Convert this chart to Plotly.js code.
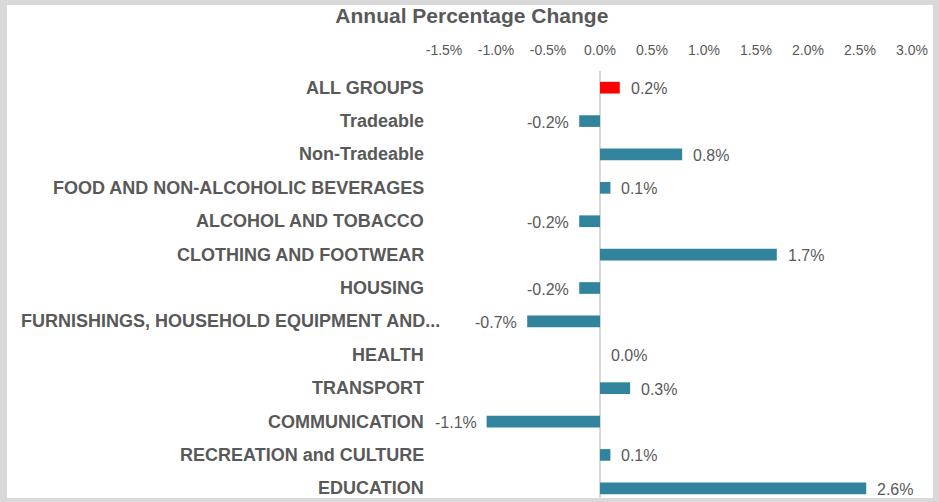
<!DOCTYPE html>
<html>
<head>
<meta charset="utf-8">
<script src="https://cdn.plot.ly/plotly-3.0.1.min.js"></script>
<style>
  html, body { margin: 0; padding: 0; width: 939px; height: 502px; background: #d9d9d9; overflow: hidden; }
  #chart { position: absolute; left: 7px; top: 5px; width: 926px; height: 493px; background: #ffffff; }
</style>
</head>
<body>
<div id="chart"></div>
<script>
// ---- data ----
const categories = [
  "ALL GROUPS",
  "Tradeable",
  "Non-Tradeable",
  "FOOD AND NON-ALCOHOLIC BEVERAGES",
  "ALCOHOL AND TOBACCO",
  "CLOTHING AND FOOTWEAR",
  "HOUSING",
  "FURNISHINGS, HOUSEHOLD EQUIPMENT AND...",
  "HEALTH",
  "TRANSPORT",
  "COMMUNICATION",
  "RECREATION and CULTURE",
  "EDUCATION"
];
const annualChange = [0.19, -0.20, 0.79, 0.10, -0.20, 1.70, -0.20, -0.70, 0.00, 0.29, -1.09, 0.10, 2.56];
const tickValues = [-1.5, -1.0, -0.5, 0.0, 0.5, 1.0, 1.5, 2.0, 2.5, 3.0];
const chartTitle = "Annual Percentage Change";

// ---- styling ----
const teal = "#31849B";
const red = "#FF0000";
const textGray = "#595959";
const barColors = categories.map((c, i) => i === 0 ? red : teal);

const trace = {
  type: "bar",
  orientation: "h",
  x: annualChange,
  y: categories,
  marker: { color: barColors, line: { width: 0 } },
  hoverinfo: "skip",
  cliponaxis: false
};

const catAnnotations = categories.map(c => ({
  xref: "paper", yref: "y",
  x: 0, y: c,
  text: c,
  showarrow: false,
  xanchor: "right", yanchor: "middle",
  xshift: c.endsWith("...") ? -2 : -18,
  font: { family: "Liberation Sans, Arial, sans-serif", size: 18, color: textGray, weight: "bold" }
}));

const valueAnnotations = annualChange.map((v, i) => ({
  xref: "x", yref: "y",
  x: v, y: categories[i],
  text: v.toFixed(1) + "%",
  showarrow: false,
  xanchor: v < 0 ? "right" : "left",
  yanchor: "middle",
  xshift: v < 0 ? -8 : 9,
  yshift: -1,
  font: { family: "Liberation Sans, Arial, sans-serif", size: 16, color: textGray }
}));

const layout = {
  width: 926,
  height: 493,
  margin: { l: 437, r: 21, t: 66, b: 0, pad: 0 },
  paper_bgcolor: "#ffffff",
  plot_bgcolor: "#ffffff",
  showlegend: false,
  bargap: 0.65,
  title: {
    text: chartTitle,
    x: 0.502, xanchor: "center", xref: "container",
    y: 0.978, yanchor: "middle", yref: "container",
    font: { family: "Liberation Sans, Arial, sans-serif", size: 21, color: textGray, weight: "bold" }
  },
  xaxis: {
    side: "top",
    range: [-1.5, 3.0],
    tickmode: "array",
    tickvals: tickValues,
    ticktext: tickValues.map(t => t.toFixed(1) + "%"),
    showgrid: false,
    showline: false,
    ticks: "",
    ticklabelstandoff: 12,
    zeroline: true,
    zerolinecolor: "#d9d9d9",
    zerolinewidth: 2,
    tickfont: { family: "Liberation Sans, Arial, sans-serif", size: 14, color: textGray },
    fixedrange: true
  },
  yaxis: {
    type: "category",
    categoryorder: "array",
    categoryarray: categories,
    range: [12.29, -0.5],
    showticklabels: false,
    showgrid: false,
    zeroline: false,
    showline: false,
    ticks: "",
    fixedrange: true
  },
  annotations: catAnnotations.concat(valueAnnotations),
  hovermode: false
};

Plotly.newPlot("chart", [trace], layout, { displayModeBar: false, staticPlot: true });
</script>
</body>
</html>
